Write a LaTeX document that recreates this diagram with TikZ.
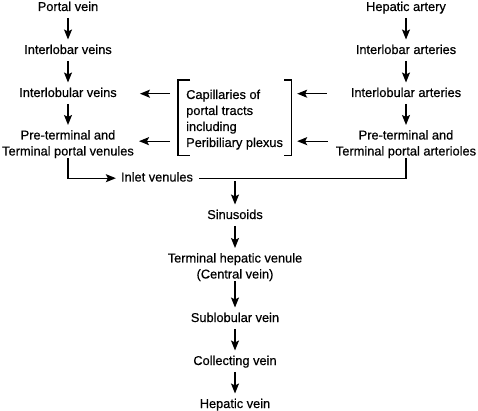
\documentclass[tikz,border=0pt]{standalone}
\usepackage{fontspec}
\setmainfont{Liberation Sans}[FakeBold=0.5]
\usetikzlibrary{arrows.meta}

\begin{document}
\begin{tikzpicture}[x=1pt, y=-1pt,
    font=\fontsize{12.8}{16}\selectfont,
    lbl/.style={inner sep=0pt, text height=9.3pt, text depth=2.7pt, anchor=base},
    blk/.style={inner sep=0pt, align=center, anchor=north},
    flow/.style={-{Stealth[length=10pt, width=8pt, inset=2pt]}, line width=1.3pt, shorten <=4pt, shorten >=5pt}]

    \useasboundingbox (0,0) rectangle (478,411);

    % Draw the portal side.
    \node[lbl] (pv) at (68,11) {Portal vein};
    \node[lbl] (ilv) at (68,54) {Interlobar veins};
    \node[lbl] (ibv) at (68,97) {Interlobular veins};
    \node[blk] (ptv) at (68,130) {Pre-terminal and\\Terminal portal venules};

    % Draw the arterial side.
    \node[lbl] (ha) at (406,11) {Hepatic artery};
    \node[lbl] (ila) at (406,54) {Interlobar arteries};
    \node[lbl] (iba) at (406,97) {Interlobular arteries};
    \node[blk] (pta) at (406,130) {Pre-terminal and\\Terminal portal arterioles};

    % Draw the capillaries.
    \node[blk, align=left, anchor=north west] (cap) at (186,89.5) {Capillaries of\\portal tracts\\including\\Peribiliary plexus};
    \draw[line width=1.1pt] ([shift={(4,-9.5)}]cap.north west) -- ++(-12,0) |- ([shift={(4,6)}]cap.south west);
    \draw[line width=1.1pt] ([shift={(1,-9.5)}]cap.north east) -- ++(7,0) |- ([shift={(1,6)}]cap.south east);

    % Draw the outflow.
    \node[lbl] (inl) at (157,181.5) {Inlet venules};
    \node[lbl] (sin) at (235,219) {Sinusoids};
    \node[blk] (thv) at (235,253) {Terminal hepatic venule\\(Central vein)};
    \node[lbl] (slv) at (235,322) {Sublobular vein};
    \node[lbl] (cv) at (235,365) {Collecting vein};
    \node[lbl] (hv) at (235,408) {Hepatic vein};

    % Draw the lines.
    % Portal side.
    \draw[flow] (pv) -- (ilv);
    \draw[flow] (ilv) -- (ibv);
    \draw[flow] (ibv) -- (ptv);
    % Arterial side.
    \draw[flow] (ha) -- (ila);
    \draw[flow] (ila) -- (iba);
    \draw[flow] (iba) -- (pta);
    % Capillaries.
    \draw[flow, shorten <=24pt, shorten >=14pt] (iba.west) -- (iba.west -| cap.east);
    \draw[flow, shorten <=8pt, shorten >=14pt] ([yshift=3pt]pta.west) -- ([yshift=3pt]pta.west -| cap.east);
    \draw[flow, shorten <=16pt, shorten >=23pt] (ibv.east -| cap.west) -- (ibv.east);
    \draw[flow, shorten <=16pt, shorten >=5pt] ([yshift=3pt]ptv.east -| cap.west) -- ([yshift=3pt]ptv.east);
    % Inlet.
    \draw[flow, shorten <=0pt] (ptv.south) |- (inl.west);
    \draw[line width=1.3pt, shorten >=6pt] (pta.south) |- (inl.east);
    \draw[flow, shorten <=3pt] (inl.east -| sin) -- (sin);
    % Outflow.
    \draw[flow] (sin) -- (thv);
    \draw[flow, shorten <=0pt] (thv) -- (slv);
    \draw[flow] (slv) -- (cv);
    \draw[flow] (cv) -- (hv);
\end{tikzpicture}
\end{document}
